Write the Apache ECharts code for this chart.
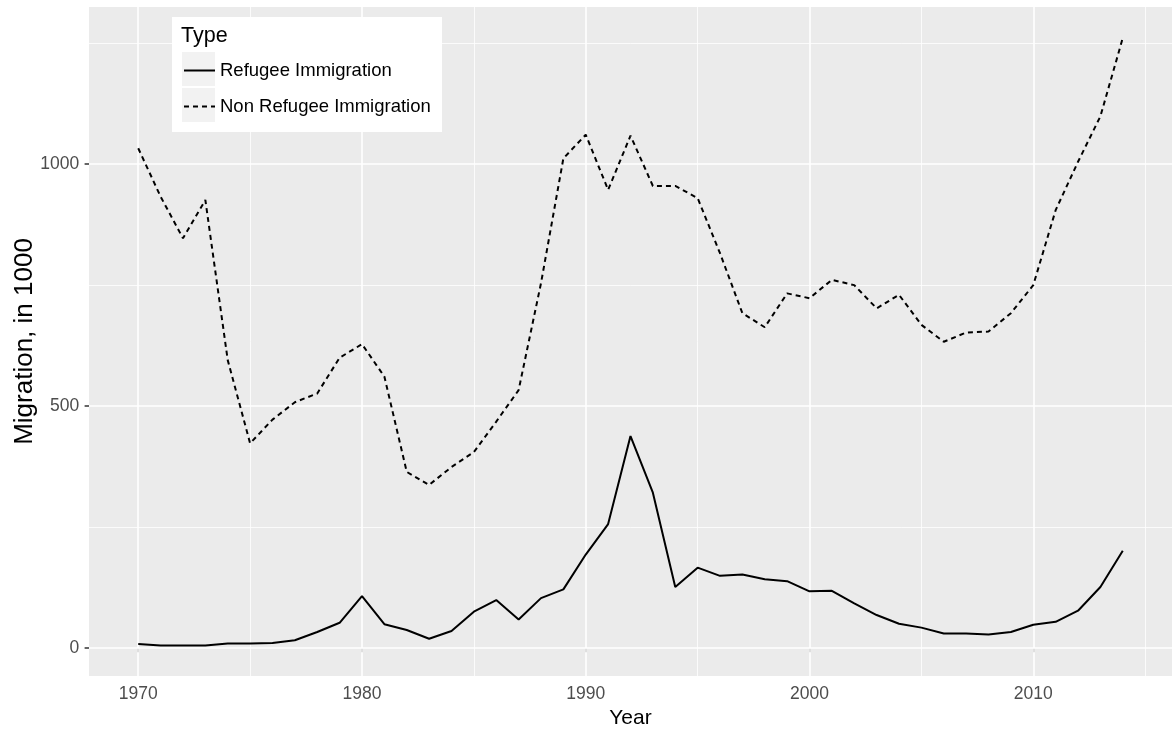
<!DOCTYPE html>
<html>
<head>
<meta charset="utf-8">
<script src="https://cdn.jsdelivr.net/npm/echarts@6/dist/echarts.min.js"></script>
<style>
    html,body{margin:0;padding:0;background:#fff;}
    #chart{width:1172px;height:731px;}
</style>
</head>
<body>
<div id="chart"></div>
<script>
// data, in 1000
var years=[1970,1971,1972,1973,1974,1975,1976,1977,1978,1979,
           1980,1981,1982,1983,1984,1985,1986,1987,1988,1989,
           1990,1991,1992,1993,1994,1995,1996,1997,1998,1999,
           2000,2001,2002,2003,2004,2005,2006,2007,2008,2009,
           2010,2011,2012,2013,2014];
var refugee=[8,5,5,5,9,9,10,16,33,52,
             107,49,37,19,35,75,99,59,103,121,
             193,256,438,321,126,166,149,152,142,138,
             117,118,92,68,50,42,30,30,28,33,
             48,54,77,126,201];
var nonRefugee=[1033,933,847,926,595,423,472,508,526,600,
                628,561,364,337,374,405,468,533,754,1012,
                1061,947,1059,955,955,930,816,692,663,733,
                723,761,750,702,730,668,633,652,654,692,
                750,905,1005,1099,1261];
var seriesNames=['Refugee Immigration','Non Refugee Immigration'];

// axis ticks and grid lines
var xTicks=[1970,1980,1990,2000,2010];
var xMinor=[1975,1985,1995,2005,2015];
var yTicks=[0,500,1000];
var yMinor=[250,750,1250];

window.onload=function(){

    var myChart=echarts.init(document.getElementById('chart'),null,{renderer:'canvas'});
    var font='"Liberation Sans", Arial, sans-serif';

    function pairs(vals){
        var out=[];
        for(var i=0;i<years.length;i++){
            out.push([years[i],vals[i]]);
        }
        return out;
    }

    // grid lines as mark lines (major thick, minor thin)
    var gridLines=[];
    for(var i=0;i<xTicks.length;i++) gridLines.push({xAxis:xTicks[i],lineStyle:{color:'#fff',width:1.6,type:'solid'}});
    for(var i=0;i<xMinor.length;i++) gridLines.push({xAxis:xMinor[i],lineStyle:{color:'#fff',width:0.8,type:'solid'}});
    for(var i=0;i<yTicks.length;i++) gridLines.push({yAxis:yTicks[i],lineStyle:{color:'#fff',width:1.6,type:'solid'}});
    for(var i=0;i<yMinor.length;i++) gridLines.push({yAxis:yMinor[i],lineStyle:{color:'#fff',width:0.8,type:'solid'}});

    //one legend per line so each row sits where the reference puts it
    function legendRow(name,top){
        return {
            data:[name],
            orient:'vertical',
            left:183,top:top,
            itemWidth:31,itemHeight:14,
            padding:0,
            z:10,
            itemStyle:{opacity:0},
            textStyle:{color:'#000',fontSize:18.5,fontFamily:font}
        };
    }

    var option={
        animation:false,
        grid:{
            left:89,right:0,top:7,bottom:55,
            outerBoundsMode:'none',
            containLabel:false,
            show:true,backgroundColor:'#EBEBEB',borderWidth:0
        },
        legend:[
            legendRow(seriesNames[0],61),
            legendRow(seriesNames[1],97)
        ],
        graphic:[
            {type:'rect',z:5,shape:{x:172,y:17,width:270,height:115},style:{fill:'#fff'}},
            {type:'rect',z:6,shape:{x:182,y:52,width:33,height:34},style:{fill:'#F2F2F2'}},
            {type:'rect',z:6,shape:{x:182,y:88,width:33,height:34},style:{fill:'#F2F2F2'}},
            {type:'text',z:6,left:181,top:25,style:{text:'Type',fill:'#000',fontSize:21.5,fontFamily:font}}
        ],
        xAxis:{
            type:'value',
            min:1967.8,max:2016.2,
            name:'Year',
            nameLocation:'middle',
            nameGap:32,
            nameMoveOverlap:false,
            nameTextStyle:{color:'#000',fontSize:21,fontFamily:font},
            axisLine:{show:false},
            axisTick:{show:true,length:4.4,customValues:xTicks,lineStyle:{color:'#333',width:1.5}},
            axisLabel:{customValues:xTicks,margin:9,color:'#4D4D4D',fontSize:17.5,fontFamily:font,
                formatter:function(v){return String(v);}},
            splitLine:{show:false}
        },
        yAxis:{
            type:'value',
            min:-58,max:1325,
            name:'Migration, in 1000',
            nameLocation:'middle',
            nameGap:51,
            nameMoveOverlap:false,
            nameTextStyle:{color:'#000',fontSize:26,fontFamily:font},
            axisLine:{show:false},
            axisTick:{show:true,length:4.4,customValues:yTicks,lineStyle:{color:'#333',width:1.5}},
            axisLabel:{customValues:yTicks,margin:9.7,color:'#4D4D4D',fontSize:17.5,fontFamily:font,
                formatter:function(v){return String(v);}},
            splitLine:{show:false}
        },
        series:[
            {
                name:'grid',
                type:'line',
                data:[],
                z:1,
                silent:true,
                markLine:{
                    silent:true,
                    z:1,
                    symbol:['none','none'],
                    label:{show:false},
                    emphasis:{disabled:true},
                    data:gridLines
                }
            },
            {
                name:seriesNames[0],
                type:'line',
                data:pairs(refugee),
                z:3,
                symbol:'none',
                color:'#000',
                lineStyle:{color:'#000',width:2,type:'solid'}
            },
            {
                name:seriesNames[1],
                type:'line',
                data:pairs(nonRefugee),
                z:3,
                symbol:'none',
                color:'#000',
                lineStyle:{color:'#000',width:2,type:[5,4]}
            }
        ]
    };

    myChart.setOption(option);
}
</script>
</body>
</html>
